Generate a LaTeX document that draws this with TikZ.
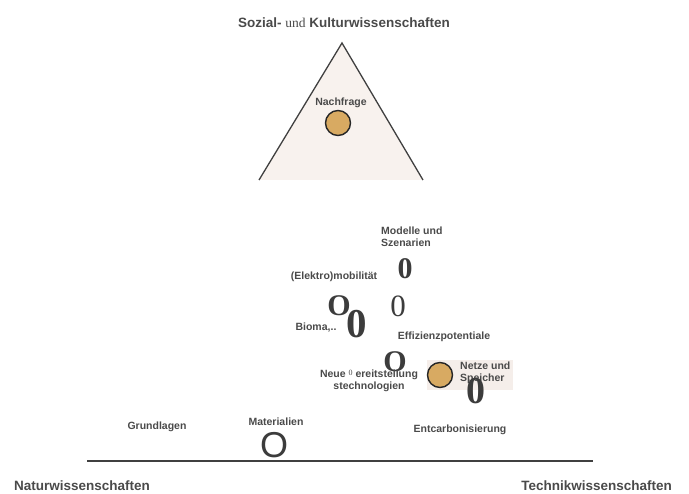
\documentclass[tikz,border=0pt]{standalone}
\usepackage{fontspec}
\setmainfont{Liberation Serif}
\setsansfont{Liberation Sans}
\definecolor{txtgray}{HTML}{4A4A4A}
\definecolor{glyphgray}{HTML}{3C3C3C}
\definecolor{tribg}{HTML}{F8F2EE}
\definecolor{labbg}{HTML}{F5EEEA}
\definecolor{dottan}{HTML}{D8AA62}

\begin{document}
\begin{tikzpicture}[x=1pt,y=-1pt,every node/.style={inner sep=0pt,text=txtgray},
  lab/.style={font=\sffamily\bfseries\fontsize{10.5}{12}\selectfont,align=left},
  head/.style={font=\sffamily\bfseries\fontsize{13.5}{15}\selectfont},
  bigbf/.style={text=glyphgray,font=\rmfamily\bfseries\fontsize{30}{30}\selectfont},
  bigrm/.style={text=glyphgray,font=\rmfamily\fontsize{31}{31}\selectfont},
  dot/.style={circle,draw=black!85,line width=1.4pt,fill=dottan,minimum size=25pt}]
\useasboundingbox (0,0) rectangle (689,494);
\fill[labbg] (427,360) rectangle (513,390);
\fill[tribg] (342,43) -- (259,180) -- (423,180) -- cycle;
\draw[black!75,line width=1.3pt] (259,180) -- (342,43) -- (423,180);
\node[head] (sozkult) at (344,23) {Sozial- {\rmfamily\mdseries und} Kulturwissenschaften};
\node[lab] (nachfrage) at (341,103) {Nachfrage};
\node[dot] (nachfragedot) at (338,123) {};
\node[lab,anchor=west] (modelle) at (381,237) {Modelle und\\Szenarien};
\node[bigbf] (g1) at (405,269) {0};
\node[lab] (mobil) at (334,277) {(Elektro)mobilität};
\node[bigbf] (g2) at (339,306) {O};
\node[bigbf,font=\rmfamily\bfseries\fontsize{41}{41}\selectfont] (g3) at (357,324) {0};
\node[bigrm] (g4) at (398,306) {0};
\node[lab] (bioma) at (316,328) {Bioma,..};
\node[lab] (effizienz) at (444,337) {Effizienzpotentiale};
\node[bigbf] (g5) at (395,362) {O};
\node[dot] (netzedot) at (440,375) {};
\node[lab,anchor=west] (netze) at (460,373) {Netze und\\Speicher};
\node[bigbf,font=\rmfamily\bfseries\fontsize{38}{38}\selectfont] (g6) at (476,391) {0};
\node[lab,align=center] (neue) at (369,381) {Neue {\rmfamily\mdseries\fontsize{8}{8}\selectfont\raisebox{2pt}{0}} ereitstellung\\stechnologien};
\node[lab] (grundlagen) at (157,427) {Grundlagen};
\node[lab] (materialien) at (276,422) {Materialien};
\node[text=glyphgray,font=\sffamily\fontsize{36}{36}\selectfont] (g7) at (274,445) {O};
\node[lab] (entcarb) at (460,430) {Entcarbonisierung};
\coordinate (achsel) at (87,461);
\coordinate (achser) at (593,461);
\draw[black!75,line width=1.3pt] (achsel) -- (achser);
\node[head,anchor=west] (natur) at (14,486) {Naturwissenschaften};
\node[head,anchor=east] (technik) at (672,486) {Technikwissenschaften};
\end{tikzpicture}
\end{document}
